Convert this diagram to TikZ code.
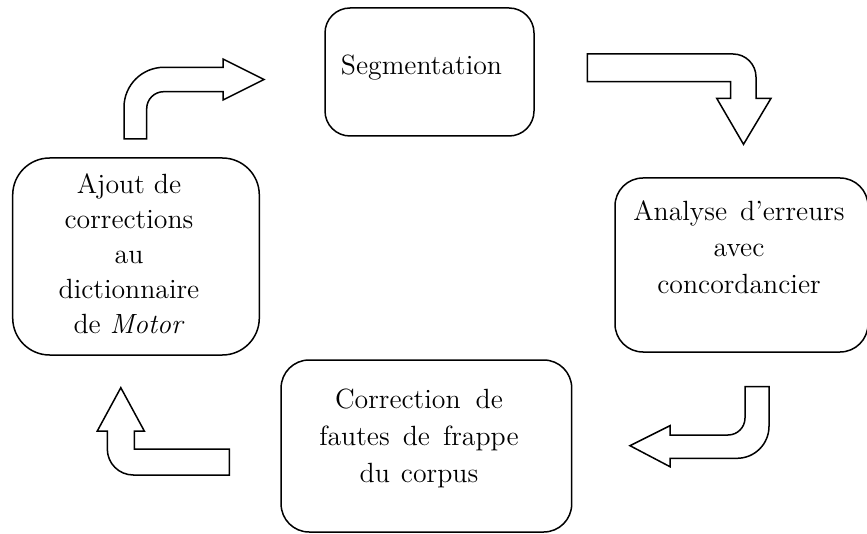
\documentclass[tikz,border=0pt]{standalone}
\begin{document}
\begin{tikzpicture}[x=0.5pt,y=-0.5pt,line width=0.75pt,
  box/.style={draw, rounded corners=#1, inner sep=0pt},
  txt/.style={align=center, inner sep=0pt, font=\fontsize{13.9}{#1}\selectfont}]
\useasboundingbox (0,0) rectangle (867,534);
% boxes
\node[box=12.5pt, minimum width=104.5pt, minimum height=64pt] (seg) at (429.5,72) {};
\node[box=18.5pt, minimum width=123.3pt, minimum height=98.5pt] (ajout) at (136,256.5) {};
\node[box=14pt, minimum width=126.5pt, minimum height=87pt] (analyse) at (741.5,265) {};
\node[box=14pt, minimum width=145.3pt, minimum height=86pt] (corr) at (426.4,446) {};
% texts
\node[txt=18pt] (segtxt) at (421.5,67.3) {Segmentation};
\node[txt=17.5pt] (ajouttxt) at (129,253.5) {Ajout de\\corrections\\au\\dictionnaire\\de \textit{Motor}};
\node[txt=18.25pt] (analysetxt) at (739,247) {Analyse\hspace{2pt} d’erreurs\\avec\\concordancier};
\node[txt=18.5pt] (corrtxt) at (419,438) {Correction\hspace{3pt} de\\fautes\hspace{2pt} de\hspace{2pt} frappe\\du\hspace{1pt} corpus};
% bent arrows
\draw (124,139) -- (124,107.3) .. controls (124,85.2) and (141.9,67.3) .. (164,67.3)
  -- (223,67.3) -- (223,59) -- (264,79.5) -- (223,100) -- (223,91.7) -- (163.7,91.7)
  .. controls (154.3,91.7) and (146.7,99.3) .. (146.7,108.7) -- (146.7,139) -- cycle;
\draw (587.3,54) -- (733,54) .. controls (745.7,54) and (756,64.3) .. (756,77)
  -- (756,98.3) -- (771,98.3) -- (743.5,144.3) -- (716.7,98.3) -- (730.7,98.3)
  -- (730.7,81.7) -- (587.3,81.7) -- cycle;
\draw (745,386.7) -- (769,386.7) -- (769,426.3) .. controls (769,444) and (754.7,458.3) .. (737,458.3)
  -- (670,458.3) -- (670,466.7) -- (630,445.7) -- (670,425.7) -- (670,435) -- (728,435)
  .. controls (737.4,435) and (745,427.4) .. (745,418) -- cycle;
\draw (229.3,449) -- (134.3,449) -- (134.3,431) -- (144.3,431) -- (120.8,387.7) -- (97.3,431)
  -- (107.3,431) -- (107.3,449) .. controls (107.3,463.4) and (118.9,475) .. (133.3,475)
  -- (229.3,475) -- cycle;
\end{tikzpicture}
\end{document}
